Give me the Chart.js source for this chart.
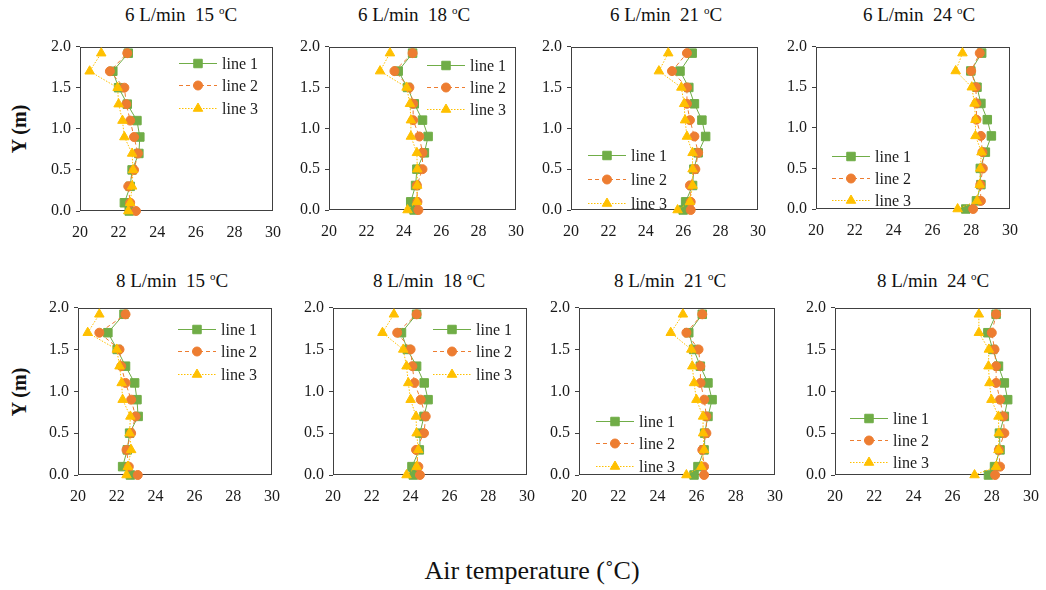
<!DOCTYPE html>
<html>
<head>
<meta charset="utf-8">
<script src="https://cdn.jsdelivr.net/npm/chart.js@4/dist/chart.umd.min.js"></script>
<style>
  body { margin: 0; background: #fff; width: 1046px; height: 590px; position: relative; overflow: hidden;
         font-family: "Liberation Serif", "Times New Roman", serif; color: #111; }
  .panel { position: absolute; }
  .ttl { position: absolute; transform: translateX(-50%); font-size: 19px; line-height: 22px; white-space: pre; }
  .ttl sup { font-size: 11px; line-height: 0; vertical-align: 0; position: relative; top: -7px; }
  .ylab { position: absolute; font-size: 20px; font-weight: bold; white-space: nowrap;
          transform: translate(-50%, -50%) rotate(-90deg); }
  .xlab { position: absolute; font-size: 26px; white-space: nowrap; transform: translate(-50%, -50%); }
</style>
</head>
<body>
<div class="xlab" style="left:532px; top:571px;">Air temperature (˚C)</div>
<div class="ylab" style="left:19px; top:129px;">Y (m)</div>
<div class="ylab" style="left:19px; top:392px;">Y (m)</div>
<script>
"use strict"

// heights of the measuring points (m), same for every run
const heights = [0.0, 0.1, 0.3, 0.5, 0.7, 0.9, 1.1, 1.3, 1.5, 1.7, 1.92];
const xTicks = [20, 22, 24, 26, 28, 30];
const yTicks = [0.0, 0.5, 1.0, 1.5, 2.0];
const seriesNames = ["line 1", "line 2", "line 3"];

// air temperature (C) at each height, 6 L/min
const f6t15_line1 = [22.55, 22.3, 22.6, 22.7, 23.05, 23.1, 22.95, 22.45, 22.0, 21.7, 22.5];
const f6t15_line2 = [22.9, 22.6, 22.5, 22.8, 23.0, 22.8, 22.6, 22.4, 22.3, 21.55, 22.45];
const f6t15_line3 = [22.5, 22.6, 22.7, 22.75, 22.7, 22.3, 22.2, 22.0, 21.95, 20.5, 21.1];

const f6t18_line1 = [24.55, 24.37, 24.63, 24.7, 25.1, 25.3, 25.0, 24.56, 24.2, 23.7, 24.47];
const f6t18_line2 = [24.78, 24.73, 24.7, 25.0, 25.0, 24.83, 24.5, 24.5, 24.3, 23.5, 24.47];
const f6t18_line3 = [24.2, 24.7, 24.72, 24.72, 24.7, 24.38, 24.38, 24.33, 24.15, 22.73, 23.26];

const f6t21_line1 = [26.0, 26.13, 26.5, 26.57, 26.8, 27.2, 27.0, 26.6, 26.3, 25.83, 26.48];
const f6t21_line2 = [26.4, 26.4, 26.36, 26.65, 26.8, 26.6, 26.36, 26.2, 26.2, 25.4, 26.2];
const f6t21_line3 = [25.7, 26.36, 26.5, 26.5, 26.5, 26.2, 26.1, 26.05, 25.9, 24.7, 25.2];

const f6t24_line1 = [27.72, 28.27, 28.5, 28.47, 28.73, 29.04, 28.83, 28.5, 28.3, 27.98, 28.54];
const f6t24_line2 = [28.1, 28.5, 28.47, 28.6, 28.58, 28.5, 28.27, 28.27, 28.24, 28.0, 28.44];
const f6t24_line3 = [27.3, 28.3, 28.44, 28.47, 28.53, 28.22, 28.22, 28.17, 28.03, 27.2, 27.55];

// 8 L/min
const f8t15_line1 = [22.7, 22.3, 22.54, 22.66, 23.1, 23.04, 22.92, 22.45, 22.02, 21.54, 22.37];
const f8t15_line2 = [23.08, 22.62, 22.5, 22.74, 22.97, 22.74, 22.45, 22.23, 22.14, 21.1, 22.45];
const f8t15_line3 = [22.5, 22.57, 22.74, 22.66, 22.7, 22.3, 22.25, 22.14, 22.0, 20.5, 21.1];

const f8t18_line1 = [24.14, 24.07, 24.45, 24.48, 24.69, 24.9, 24.7, 24.31, 23.83, 23.53, 24.31];
const f8t18_line2 = [24.48, 24.4, 24.28, 24.69, 24.78, 24.52, 24.2, 24.09, 24.0, 23.31, 24.31];
const f8t18_line3 = [23.79, 24.31, 24.4, 24.31, 24.28, 24.0, 23.88, 23.79, 23.62, 22.55, 23.14];

const f8t21_line1 = [25.87, 26.07, 26.38, 26.41, 26.58, 26.79, 26.58, 26.19, 25.85, 25.6, 26.29];
const f8t21_line2 = [26.38, 26.38, 26.29, 26.5, 26.5, 26.39, 26.2, 26.19, 26.1, 25.48, 26.29];
const f8t21_line3 = [25.48, 26.24, 26.38, 26.33, 26.33, 25.99, 25.87, 25.78, 25.73, 24.68, 25.3];

const f8t24_line1 = [27.83, 28.14, 28.42, 28.39, 28.64, 28.81, 28.64, 28.34, 28.05, 27.8, 28.22];
const f8t24_line2 = [28.17, 28.42, 28.36, 28.64, 28.59, 28.42, 28.22, 28.22, 28.14, 28.0, 28.22];
const f8t24_line3 = [27.12, 28.22, 28.34, 28.36, 28.34, 27.98, 27.88, 27.83, 27.85, 27.34, 27.34];

// look of the three series
const colors = ["#70AD47", "#ED7D31", "#FFC000"];
const dashes = [[], [4, 3], [1.5, 1.5]];
const shapes = ["rect", "circle", "triangle"];
const radii = [6, 4.5, 5.5];

Chart.defaults.font.family = '"Liberation Serif", "Times New Roman", serif';
Chart.defaults.font.size = 16;
Chart.defaults.color = "#1a1a1a";

// panels: title, data, plot box in page pixels, legend spot inside the box
const panels = [
  { flow: "6", temp: "15", lines: [f6t15_line1, f6t15_line2, f6t15_line3], box: [80, 273, 40, 211], tx: 181, ty: 4, leg: [99, 16, 22.5] },
  { flow: "6", temp: "18", lines: [f6t18_line1, f6t18_line2, f6t18_line3], box: [329, 516, 40, 210], tx: 414, ty: 4, leg: [98, 18, 22] },
  { flow: "6", temp: "21", lines: [f6t21_line1, f6t21_line2, f6t21_line3], box: [571, 758, 40, 210], tx: 666, ty: 4, leg: [17, 108, 24] },
  { flow: "6", temp: "24", lines: [f6t24_line1, f6t24_line2, f6t24_line3], box: [816, 1010, 40, 209], tx: 919, ty: 4, leg: [16, 109, 22] },
  { flow: "8", temp: "15", lines: [f8t15_line1, f8t15_line2, f8t15_line3], box: [78, 272, 301, 475], tx: 172, ty: 270, leg: [100, 21, 22.5] },
  { flow: "8", temp: "18", lines: [f8t18_line1, f8t18_line2, f8t18_line3], box: [333, 527, 301, 475], tx: 429, ty: 270, leg: [100, 21, 22.5] },
  { flow: "8", temp: "21", lines: [f8t21_line1, f8t21_line2, f8t21_line3], box: [579, 775, 301, 475], tx: 670, ty: 270, leg: [17, 113, 22.5] },
  { flow: "8", temp: "24", lines: [f8t24_line1, f8t24_line2, f8t24_line3], box: [835, 1031, 301, 475], tx: 933, ty: 270, leg: [15, 110, 22] }
];

// frame round the plot and the small legend inside it
const frameLegend = {
  id: "frameLegend",
  beforeDatasetsDraw(chart) {
    const ctx = chart.ctx, a = chart.chartArea;
    ctx.save();
    ctx.strokeStyle = "#404040";
    ctx.lineWidth = 1;
    ctx.strokeRect(Math.round(a.left) + 0.5, Math.round(a.top) + 0.5,
                   Math.round(a.right - a.left) - 1, Math.round(a.bottom - a.top) - 1);
    ctx.restore();
  },
  afterDatasetsDraw(chart, args, opts) {
    const ctx = chart.ctx, a = chart.chartArea;
    ctx.save();
    chart.data.datasets.forEach(function (d, i) {
      const x = a.left + opts.x;
      const y = Math.round(a.top + opts.y + i * opts.dy) + 0.5;
      ctx.strokeStyle = d.borderColor;
      ctx.fillStyle = d.backgroundColor;
      ctx.lineWidth = 1;
      ctx.setLineDash(d.borderDash);
      ctx.beginPath();
      ctx.moveTo(x, y);
      ctx.lineTo(x + 38, y);
      ctx.stroke();
      ctx.setLineDash([]);
      Chart.helpers.drawPoint(ctx, { pointStyle: d.pointStyle, radius: d.pointRadius, borderWidth: 1, rotation: 0 }, x + 19, y);
      ctx.fillStyle = "#1a1a1a";
      ctx.font = '16px "Liberation Serif", "Times New Roman", serif';
      ctx.textBaseline = "middle";
      ctx.fillText(d.label, x + 43, y + 1);
    });
    ctx.restore();
  }
};

function makePanel(p) {
  const padL = 42, padT = 8, padR = 12, padB = 30;
  const left = p.box[0], right = p.box[1], top = p.box[2], bottom = p.box[3];

  // title as page text
  const t = document.createElement("div");
  t.className = "ttl";
  t.style.left = p.tx + "px";
  t.style.top = p.ty + "px";
  t.innerHTML = p.flow + " L/min  " + p.temp + " <sup>o</sup>C";
  document.body.appendChild(t);

  const div = document.createElement("div");
  div.className = "panel";
  div.style.left = (left - padL) + "px";
  div.style.top = (top - padT) + "px";
  const canvas = document.createElement("canvas");
  const w = right - left + padL + padR;
  const h = bottom - top + padT + padB;
  canvas.width = w;
  canvas.height = h;
  canvas.style.width = w + "px";
  canvas.style.height = h + "px";
  div.appendChild(canvas);
  document.body.appendChild(div);

  const datasets = p.lines.map(function (xs, i) {
    return {
      label: seriesNames[i],
      data: xs.map(function (x, k) { return { x: x, y: heights[k] }; }),
      showLine: true,
      borderColor: colors[i],
      backgroundColor: colors[i],
      borderWidth: 1,
      borderDash: dashes[i],
      pointStyle: shapes[i],
      pointRadius: radii[i],
      pointBorderWidth: 1,
      pointBorderColor: colors[i],
      pointBackgroundColor: colors[i],
      order: 3 - i,
      clip: false
    };
  });

  new Chart(canvas, {
    type: "scatter",
    data: { datasets: datasets },
    plugins: [frameLegend],
    options: {
      responsive: false,
      animation: false,
      events: [],
      layout: { padding: { top: padT, right: padR, left: 0, bottom: 0 } },
      plugins: {
        legend: { display: false },
        tooltip: { enabled: false },
        frameLegend: { x: p.leg[0], y: p.leg[1], dy: p.leg[2] }
      },
      scales: {
        x: {
          type: "linear",
          min: xTicks[0],
          max: xTicks[xTicks.length - 1],
          afterBuildTicks: function (s) { s.ticks = xTicks.map(function (v) { return { value: v }; }); },
          afterFit: function (s) { s.height = padB; },
          grid: { display: false },
          border: { display: false },
          ticks: { padding: 4, maxRotation: 0, autoSkip: false }
        },
        y: {
          type: "linear",
          min: yTicks[0],
          max: yTicks[yTicks.length - 1],
          afterBuildTicks: function (s) { s.ticks = yTicks.map(function (v) { return { value: v }; }); },
          afterFit: function (s) { s.width = padL; },
          grid: { display: true, drawOnChartArea: false, drawTicks: true, tickLength: 4, color: "#404040" },
          border: { display: false },
          ticks: { padding: 5, autoSkip: false, callback: function (v) { return v.toFixed(1); } }
        }
      }
    }
  });
}

panels.forEach(makePanel);
</script>
</body>
</html>
